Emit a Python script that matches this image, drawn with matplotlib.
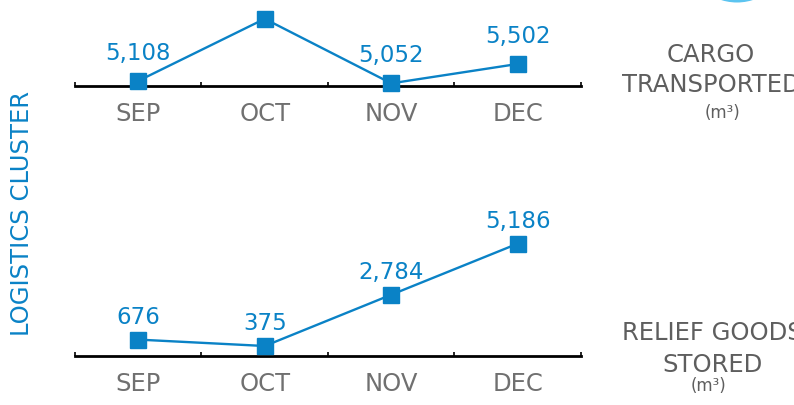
import matplotlib
matplotlib.use("Agg")
import matplotlib.pyplot as plt
from matplotlib.patches import Ellipse

months = ["SEP", "OCT", "NOV", "DEC"]
cargo_transported = [5108, 6550, 5052, 5502]
cargo_labels = ["5,108", None, "5,052", "5,502"]
goods_stored = [676, 375, 2784, 5186]
goods_labels = ["676", "375", "2,784", "5,186"]

W, H = 794, 406
BLUE = "#0a82c6"
GRAY = "#707070"
DGRAY = "#5e5e5e"

plt.rcParams["font.family"] = ["DejaVu Sans"]
fig = plt.figure(figsize=(W / 100, H / 100), dpi=100)


def fx(px):
    return px / W


def fy(py):
    return (H - py) / H


def make_panel(top_px, base_px, values, labels, ylim, label_off):
    ax = fig.add_axes([fx(75), fy(base_px), fx(581 - 75), (base_px - top_px) / H])
    ax.set_xlim(0, 4)
    ax.set_ylim(*ylim)
    xs = [i + 0.5 for i in range(len(values))]
    ax.plot(xs, values, color=BLUE, lw=1.7, marker="s", ms=11.5,
            markerfacecolor=BLUE, markeredgecolor=BLUE, clip_on=False, zorder=5)
    for x, v, lab in zip(xs, values, labels):
        if lab:
            ax.annotate(lab, (x, v), xytext=(0, label_off), textcoords="offset points",
                        ha="center", va="bottom", color=BLUE, fontsize=16.5)
    for s in ["top", "right", "left"]:
        ax.spines[s].set_visible(False)
    ax.spines["bottom"].set_linewidth(2.0)
    ax.spines["bottom"].set_color("black")
    ax.set_yticks([])
    ax.set_xticks(range(5))
    ax.set_xticklabels([""] * 5)
    ax.tick_params(axis="x", which="major", direction="in", length=3, width=1.2, color="black")
    ax.set_xticks(xs, minor=True)
    ax.set_xticklabels(months, minor=True)
    ax.tick_params(axis="x", which="minor", length=0, pad=11, labelsize=17.5, labelcolor=GRAY)
    ax.patch.set_alpha(0)
    return ax


make_panel(0, 87, cargo_transported, cargo_labels, (4990, 7010), 12.5)
make_panel(200, 357, goods_stored, goods_labels, (-95, 7284), 8.5)

# side titles
fig.text(fx(22), fy(214), "LOGISTICS CLUSTER", rotation=90, ha="center", va="center",
         color=BLUE, fontsize=17.5)
fig.text(fx(711), fy(55), "CARGO", ha="center", va="center", color=DGRAY, fontsize=17.5)
fig.text(fx(711), fy(85), "TRANSPORTED", ha="center", va="center", color=DGRAY, fontsize=17.5)
fig.text(fx(723), fy(113), "(m\u00b3)", ha="center", va="center", color=DGRAY, fontsize=12)
fig.text(fx(712), fy(333), "RELIEF GOODS", ha="center", va="center", color=DGRAY, fontsize=17.5)
fig.text(fx(712), fy(365), "STORED", ha="center", va="center", color=DGRAY, fontsize=17.5)
fig.text(fx(708), fy(386), "(m\u00b3)", ha="center", va="center", color=DGRAY, fontsize=12)

# decorative arc peeking in at top right
fig.add_artist(Ellipse((fx(737), fy(-49)), fx(105), 105 / H, transform=fig.transFigure,
                       facecolor="#5cc4f0", edgecolor="none"))

fig.savefig("out.png", dpi=100)
